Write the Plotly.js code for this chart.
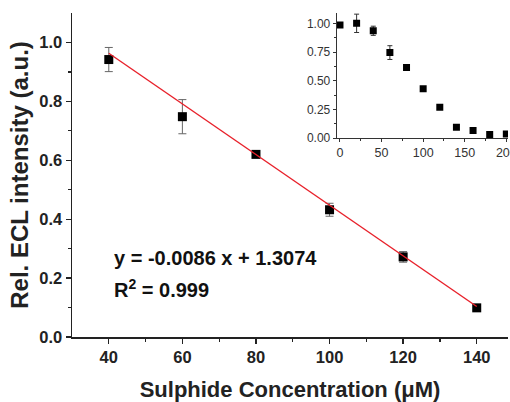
<!DOCTYPE html>
<html>
<head>
<meta charset="utf-8">
<script src="https://cdn.plot.ly/plotly-3.0.1.min.js"></script>
<style>html,body{margin:0;padding:0;background:#fff;}#chart{width:510px;height:402px;}</style>
</head>
<body>
<div id="chart"></div>
<script>
// Main calibration data
const concMain = [40, 60, 80, 100, 120, 140];
const ecLMain = [0.942, 0.748, 0.62, 0.432, 0.272, 0.099];
const errMain = [0.041, 0.058, 0.01, 0.022, 0.018, 0.008];
// Linear fit
const fitSlope = -0.0086;
const fitIntercept = 1.3074;
const fitX = [40, 140];
// Inset data
const concInset = [0, 20, 40, 60, 80, 100, 120, 140, 160, 180, 200];
const ecLInset = [0.985, 1.0, 0.935, 0.745, 0.615, 0.43, 0.268, 0.095, 0.065, 0.03, 0.035];
const errInset = [0.01, 0.08, 0.04, 0.06, 0.008, 0.01, 0.01, 0.008, 0.006, 0.006, 0.006];

const fitY = fitX.map(x => fitSlope * x + fitIntercept);

const traces = [
  {
    x: concMain, y: ecLMain, type: 'scatter', mode: 'markers',
    marker: {symbol: 'square', size: 9, color: '#000'},
    error_y: {type: 'data', array: errMain, visible: true, color: '#666', thickness: 1, width: 4},
    xaxis: 'x', yaxis: 'y', showlegend: false
  },
  {
    x: fitX, y: fitY, type: 'scatter', mode: 'lines',
    line: {color: '#e8202a', width: 1.4},
    xaxis: 'x', yaxis: 'y', showlegend: false
  },
  {
    x: concInset, y: ecLInset, type: 'scatter', mode: 'markers',
    marker: {symbol: 'square', size: 7, color: '#000'},
    error_y: {type: 'data', array: errInset, visible: true, color: '#333', thickness: 1, width: 2.5},
    xaxis: 'x2', yaxis: 'y2', showlegend: false
  }
];

const boldFont = 'Liberation Sans, Arial, sans-serif';

const layout = {
  width: 510, height: 402,
  margin: {l: 72, r: 2, t: 13, b: 65},
  paper_bgcolor: '#fff', plot_bgcolor: 'rgba(0,0,0,0)',
  font: {family: boldFont, color: '#000'},
  xaxis: {
    domain: [0, 1], range: [30, 148.5],
    showline: true, linecolor: '#222', linewidth: 1.5, mirror: false,
    showgrid: false, zeroline: false,
    ticks: 'outside', ticklen: 5, tickwidth: 1.3, tickcolor: '#222',
    tickvals: [40, 60, 80, 100, 120, 140],
    minor: {tickvals: [50, 70, 90, 110, 130], ticks: 'outside', ticklen: 3, tickcolor: '#222', showgrid: false},
    tickfont: {size: 16.5, family: boldFont, weight: 'bold', color: '#222'},
    title: {text: 'Sulphide Concentration (μM)', font: {size: 22, family: boldFont, weight: 'bold', color: '#222'}, standoff: 18}
  },
  yaxis: {
    domain: [0, 1], range: [0, 1.1],
    showline: true, linecolor: '#222', linewidth: 1.5,
    showgrid: false, zeroline: false,
    ticks: 'outside', ticklen: 5, tickwidth: 1.3, tickcolor: '#222',
    tickvals: [0, 0.2, 0.4, 0.6, 0.8, 1.0],
    ticktext: ['0.0', '0.2', '0.4', '0.6', '0.8', '1.0'],
    minor: {tickvals: [0.1, 0.3, 0.5, 0.7, 0.9], ticks: 'outside', ticklen: 3, tickcolor: '#222', showgrid: false},
    tickfont: {size: 16.5, family: boldFont, weight: 'bold', color: '#222'},
    title: {text: 'Rel. ECL intensity (a.u.)', font: {size: 24, family: boldFont, weight: 'bold', color: '#222'}, standoff: 4}
  },
  xaxis2: {
    domain: [0.607, 1], range: [-4, 202], anchor: 'y2',
    showline: true, linecolor: '#333', linewidth: 1,
    showgrid: false, zeroline: false,
    ticks: 'outside', ticklen: 3, tickwidth: 1, tickcolor: '#333',
    tickvals: [0, 50, 100, 150, 200],
    ticklabeloverflow: 'allow',
    minor: {tickvals: [25, 75, 125, 175], ticks: 'outside', ticklen: 2, tickcolor: '#333', showgrid: false},
    tickfont: {size: 12.5, family: boldFont, color: '#333'}
  },
  yaxis2: {
    domain: [0.614, 1], range: [0, 1.09], anchor: 'x2',
    showline: true, linecolor: '#333', linewidth: 1,
    showgrid: false, zeroline: false,
    ticks: 'outside', ticklen: 3, tickwidth: 1, tickcolor: '#333',
    tickvals: [0, 0.25, 0.5, 0.75, 1.0],
    ticktext: ['0.00', '0.25', '0.50', '0.75', '1.00'],
    minor: {tickvals: [0.125, 0.375, 0.625, 0.875], ticks: 'outside', ticklen: 2, tickcolor: '#333', showgrid: false},
    tickfont: {size: 12, family: boldFont, color: '#333'}
  },
  annotations: [
    {
      xref: 'x', yref: 'y', x: 40.8, y: 0.268, xanchor: 'left', yanchor: 'middle',
      text: 'y = -0.0086 x + 1.3074', showarrow: false,
      font: {size: 20, family: boldFont, weight: 'bold', color: '#111'}
    },
    {
      xref: 'x', yref: 'y', x: 40.8, y: 0.165, xanchor: 'left', yanchor: 'middle',
      text: 'R<sup>2</sup> = 0.999', showarrow: false,
      font: {size: 20, family: boldFont, weight: 'bold', color: '#111'}
    }
  ]
};

Plotly.newPlot('chart', traces, layout, {displayModeBar: false, staticPlot: true});
</script>
</body>
</html>
